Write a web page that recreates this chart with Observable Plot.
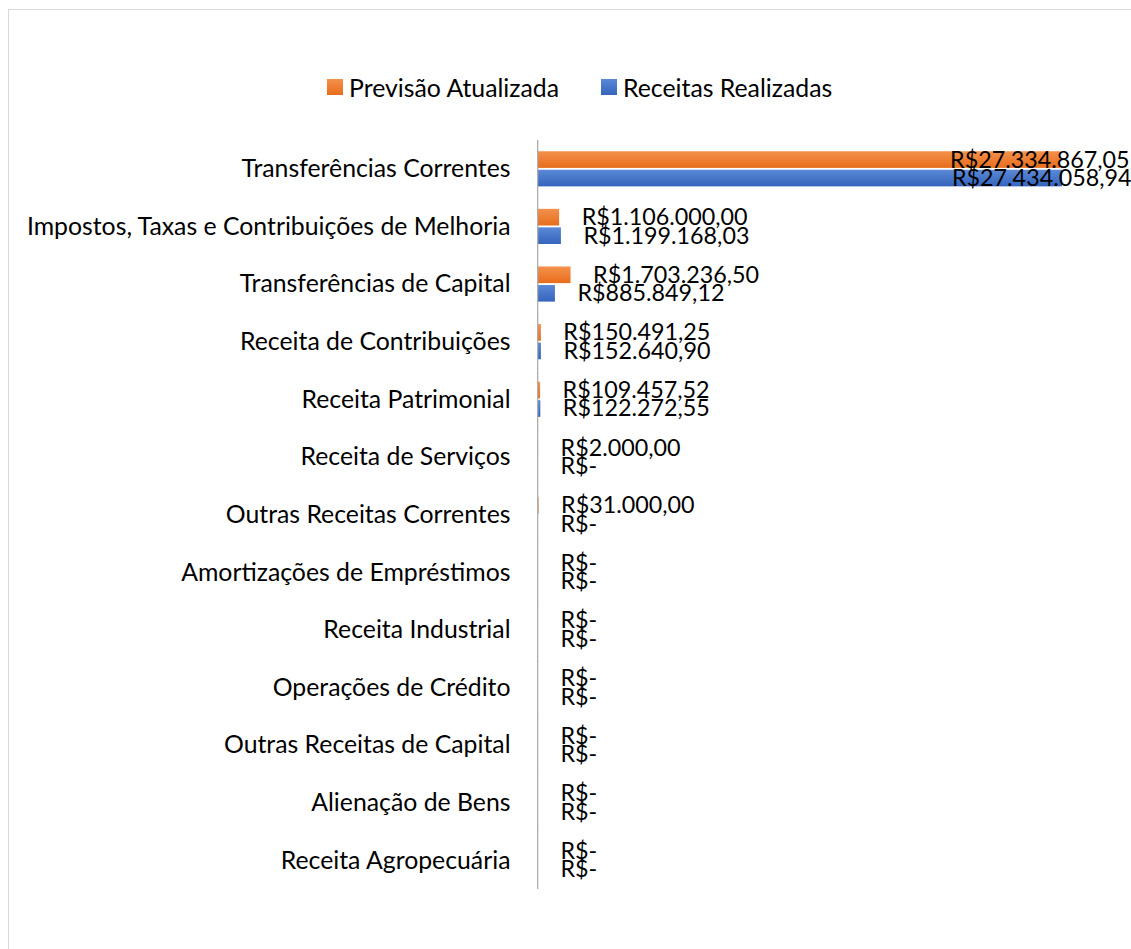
<!DOCTYPE html>
<html>
<head>
<meta charset="utf-8">
<script src="https://cdn.jsdelivr.net/npm/d3@7"></script>
<script src="https://cdn.jsdelivr.net/npm/@observablehq/plot@0.6"></script>
<style>
  html, body { margin: 0; padding: 0; background: #fff; overflow: hidden; }
  body { width: 1131px; height: 949px; position: relative; font-family: Lato, "Open Sans", sans-serif; }
  #frame { position: absolute; left: 8px; top: 9px; width: 1200px; height: 1000px; border: 1.5px solid #d9d9d9; box-sizing: border-box; }
  #legend { position: absolute; left: 327px; top: 72px; height: 30px; display: flex; align-items: center; font-size: 24.8px; color: #000; white-space: nowrap; }
  #legend .sw { width: 16px; height: 16px; display: inline-block; margin-right: 6px; }
  #legend .item { display: flex; align-items: center; margin-right: 42px; }
  #chart { position: absolute; left: 0; top: 139px; }
</style>
</head>
<body>
<div id="frame"></div>
<div id="legend"></div>
<div id="chart"></div>
<script>
const categories = [
  "Transferências Correntes",
  "Impostos, Taxas e Contribuições de Melhoria",
  "Transferências de Capital",
  "Receita de Contribuições",
  "Receita Patrimonial",
  "Receita de Serviços",
  "Outras Receitas Correntes",
  "Amortizações de Empréstimos",
  "Receita Industrial",
  "Operações de Crédito",
  "Outras Receitas de Capital",
  "Alienação de Bens",
  "Receita Agropecuária"
];
const seriesNames = ["Previsão Atualizada", "Receitas Realizadas"];
const previsao = [27334867.05, 1106000.00, 1703236.50, 150491.25, 109457.52, 2000.00, 31000.00, 0, 0, 0, 0, 0, 0];
const realizadas = [27434058.94, 1199168.03, 885849.12, 152640.90, 122272.55, 0, 0, 0, 0, 0, 0, 0, 0];
const seriesColors = ["url(#gradO)", "url(#gradB)"];
const legendColors = ["linear-gradient(#F4914C, #E86D1C)", "linear-gradient(#5B89D6, #3464BD)"];

const rows = [];
categories.forEach((c, i) => {
  rows.push({category: c, series: seriesNames[0], value: previsao[i]});
  rows.push({category: c, series: seriesNames[1], value: realizadas[i]});
});

const nf = new Intl.NumberFormat("pt-BR", {minimumFractionDigits: 2, maximumFractionDigits: 2});
const fmt = v => v === 0 ? "R$-" : "R$" + nf.format(v);
const maxV = d3.max(rows, d => d.value);

// legend
const legend = document.getElementById("legend");
seriesNames.forEach((s, i) => {
  const it = document.createElement("span");
  it.className = "item";
  const sw = document.createElement("span");
  sw.className = "sw";
  sw.style.background = legendColors[i];
  it.appendChild(sw);
  it.appendChild(document.createTextNode(s));
  legend.appendChild(it);
});

const chart = Plot.plot({
  width: 1131,
  height: 810,
  marginLeft: 538,
  marginRight: 69,
  marginTop: 1,
  marginBottom: 60,
  style: {fontFamily: "Lato, 'Open Sans', sans-serif", fontSize: "24.8px", color: "#000", background: "transparent"},
  x: {domain: [0, maxV], axis: null},
  y: {domain: seriesNames, axis: null, paddingInner: 0.1, paddingOuter: 0, round: false},
  fy: {domain: categories, paddingInner: 0.39, paddingOuter: 0.195, round: false, axis: "left", tickSize: 0, tickPadding: 28, label: null},
  color: {domain: seriesNames, range: seriesColors},
  marks: [
    Plot.barX(rows, {x: "value", y: "series", fy: "category", fill: "series"}),
    Plot.ruleX([0], {stroke: "#a6a6a6", strokeWidth: 1.2, insetTop: -11.3, insetBottom: -11.3, dx: -0.8}),
    Plot.text(rows.filter(d => d.value < maxV / 2), {
      x: "value", y: "series", fy: "category", text: d => fmt(d.value),
      textAnchor: "start", dx: 22, fill: "#000", fontSize: 23.3
    }),
    Plot.text(rows.filter(d => d.value >= maxV / 2), {
      x: "value", y: "series", fy: "category", text: d => fmt(d.value),
      textAnchor: "end", dx: 69, fill: "#000", fontSize: 23.3
    })
  ]
});

const ns = "http://www.w3.org/2000/svg";
const defs = document.createElementNS(ns, "defs");
defs.innerHTML = `
  <linearGradient id="gradO" x1="0" y1="0" x2="0" y2="1">
    <stop offset="0" stop-color="#F4914C"/><stop offset="1" stop-color="#E86D1C"/>
  </linearGradient>
  <linearGradient id="gradB" x1="0" y1="0" x2="0" y2="1">
    <stop offset="0" stop-color="#5B89D6"/><stop offset="1" stop-color="#3464BD"/>
  </linearGradient>`;
chart.insertBefore(defs, chart.firstChild);
document.getElementById("chart").appendChild(chart);
</script>
</body>
</html>
